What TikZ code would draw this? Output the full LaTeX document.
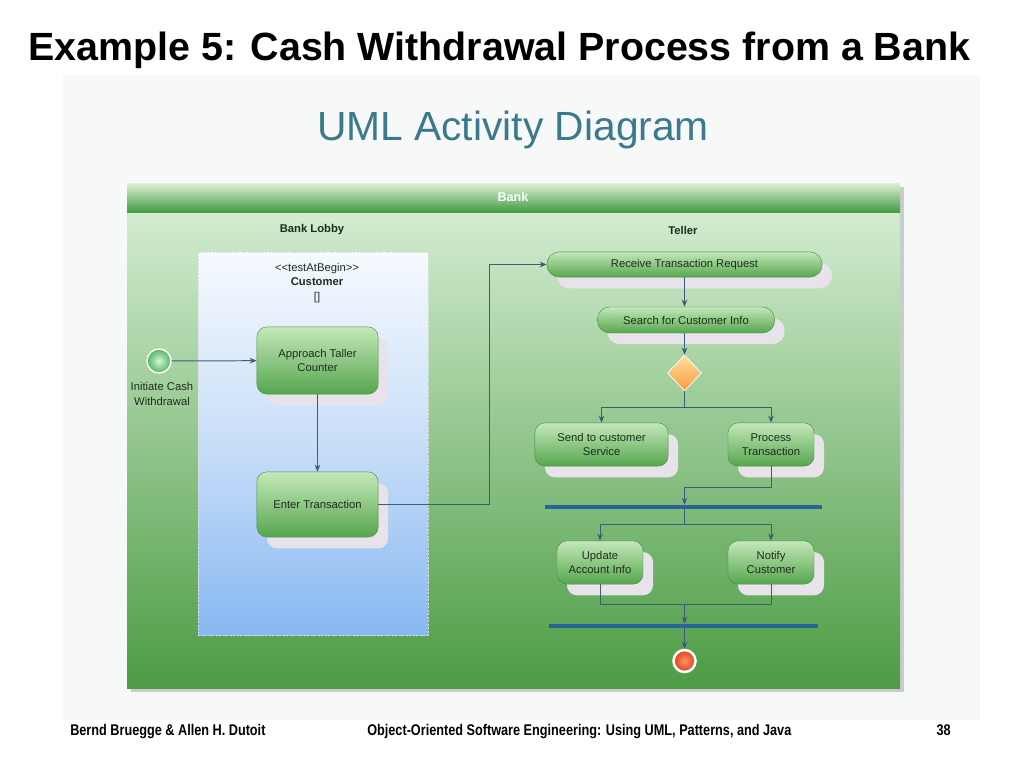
\documentclass[tikz,border=0pt]{standalone}
\usepackage{fontspec}
\setmainfont{Liberation Sans}
\newfontfamily\narrowfont[FakeStretch=0.82]{Liberation Sans}
\usetikzlibrary{arrows.meta,shapes.geometric,shadows}
\definecolor{arrowc}{RGB}{62,92,122}
\definecolor{barc}{RGB}{40,100,150}
\definecolor{boxtop}{RGB}{196,232,186}
\definecolor{boxbot}{RGB}{86,166,78}
\definecolor{shadowc}{RGB}{232,226,234}
\definecolor{bodytop}{RGB}{210,236,208}
\definecolor{bodybot}{RGB}{76,156,68}
\definecolor{headtop}{RGB}{220,242,214}
\definecolor{headbot}{RGB}{66,156,66}
\definecolor{umlc}{RGB}{58,122,140}
\definecolor{parttop}{RGB}{246,250,254}
\definecolor{partmid}{RGB}{200,222,248}
\definecolor{partbot}{RGB}{136,184,242}
\definecolor{txtc}{RGB}{28,46,28}
\definecolor{diamtop}{RGB}{255,220,160}
\definecolor{diambot}{RGB}{246,160,60}
\definecolor{panelc}{RGB}{247,249,249}
\definecolor{frameshadow}{RGB}{200,204,204}
\tikzset{
  activity/.style={rectangle, rounded corners=0.25cm, top color=boxtop, bottom color=boxbot,
    draw=boxbot!85!black, line width=0.3pt, align=center, inner sep=2pt,
    font=\fontsize{8}{10}\selectfont, text=txtc,
    drop shadow={shadow xshift=0.25cm, shadow yshift=-0.28cm, fill=shadowc, opacity=1}},
  pill/.style={activity, rounded corners=0.31cm},
  flow/.style={draw=arrowc, line width=0.7pt, -{Stealth[length=5pt,width=4pt]}},
  plain/.style={draw=arrowc, line width=0.7pt},
  bar/.style={rectangle, fill=barc, inner sep=0pt, minimum height=0.1cm},
  lbl/.style={font=\fontsize{8}{10}\selectfont, text=txtc, align=center},
  foot/.style={font=\narrowfont\bfseries\fontsize{11}{13}\selectfont, anchor=base west, inner sep=0pt}
}
\begin{document}
\begin{tikzpicture}[x=0.025cm,y=0.025cm]
\useasboundingbox (0,0) rectangle (1024,-768);
\fill[white] (0,0) rectangle (1024,-768);
\fill[panelc] (63,-75) rectangle (980,-720);
\node[anchor=base west, font=\bfseries\fontsize{28}{30}\selectfont, inner sep=0pt] (title) at (28,-61) {Example 5: Cash Withdrawal Process from a Bank};
\node[anchor=base, text=umlc, font=\fontsize{29}{31}\selectfont, inner sep=0pt] (uml) at (513,-141) {UML Activity Diagram};
% frame
\fill[frameshadow] (131,-187) rectangle (904,-692);
\shade[top color=bodytop, bottom color=bodybot] (127,-212) rectangle (900,-688);
\shade[top color=headtop, bottom color=headbot] (127,-183) rectangle (900,-212);
\node[text=white, font=\bfseries\fontsize{9}{10}\selectfont] (bank) at (513,-197) {Bank};
\node[lbl, font=\bfseries\fontsize{8}{9}\selectfont] (lobby) at (312,-230) {Bank Lobby};
\node[lbl, font=\bfseries\fontsize{8}{9}\selectfont] (teller) at (683,-230) {Teller};
% partition
\shade[top color=parttop, bottom color=partmid] (198,-252) rectangle (428,-443);
\shade[top color=partmid, bottom color=partbot] (198,-443) rectangle (428,-635);
\draw[white!75!gray, line width=0.6pt, dash pattern=on 1.5pt off 1pt] (198,-252) rectangle (428,-635);
\node[lbl, font=\fontsize{8}{10.3}\selectfont] (cust) at (317,-283) {\textless\kern0pt\textless testAtBegin\textgreater\kern0pt\textgreater\\\textbf{Customer}\\{[]}};
% nodes
\node[circle, draw=white, line width=1pt, inner color={rgb,255:red,215;green,246;blue,215}, outer color={rgb,255:red,80;green,182;blue,100}, minimum size=0.6cm, inner sep=0pt] (init) at (159,-361) {};
\node[lbl] (initlbl) at (162,-394) {Initiate Cash\\Withdrawal};
\node[activity, minimum width=3.03cm, minimum height=1.68cm] (approach) at (317.5,-360.5) {Approach Taller\\Counter};
\node[activity, minimum width=3.03cm, minimum height=1.63cm] (enter) at (317.5,-504.5) {Enter Transaction};
\node[pill, minimum width=6.88cm, minimum height=0.63cm] (receive) at (684.5,-264.5) {Receive Transaction Request};
\node[pill, minimum width=4.43cm, minimum height=0.65cm] (search) at (686,-320) {Search for Customer Info};
\node[diamond, draw=white, line width=0.5pt, top color=diamtop, bottom color=diambot, minimum width=0.85cm, minimum height=0.9cm, inner sep=0pt] (dec) at (684.5,-373) {};
\node[activity, minimum width=3.33cm, minimum height=1.08cm] (send) at (601.5,-444.5) {Send to customer\\Service};
\node[activity, minimum width=2.15cm, minimum height=1.08cm] (process) at (771,-444.5) {Process\\Transaction};
\node[bar, minimum width=6.93cm] (bar1) at (683.5,-507) {};
\node[activity, minimum width=2.15cm, minimum height=1.08cm] (update) at (600,-562.5) {Update\\Account Info};
\node[activity, minimum width=2.15cm, minimum height=1.08cm] (notify) at (771,-562.5) {Notify\\Customer};
\node[bar, minimum width=6.73cm] (bar2) at (683.5,-626) {};
\node[circle, draw=white, line width=1.8pt, inner color={rgb,255:red,255;green,150;blue,100}, outer color={rgb,255:red,226;green,62;blue,30}, minimum size=0.55cm, inner sep=0pt] (final) at (684.5,-661) {};
% junction coordinates
\coordinate (j1) at (489,-264.5);
\coordinate (b1) at (684.5,-407);
\coordinate (b2) at (684.5,-487);
\coordinate (b3) at (684.5,-524);
\coordinate (b4) at (684.5,-604);
% connectors
\draw[flow] (init) -- (approach);
\draw[flow] (approach) -- (enter);
\draw[flow] (enter.east) -| (j1) -- (receive.west);
\draw[flow] (receive.south) -- (receive.south |- search.north);
\draw[flow] (search.south -| dec) -- (dec.north);
\draw[plain] (dec.south) -- (b1);
\draw[flow] (b1) -| (send.north);
\draw[flow] (b1) -| (process.north);
\draw[plain] (process.south) |- (b2);
\draw[flow] (b2) -- (b2 |- bar1.north);
\draw[plain] (b2 |- bar1.south) -- (b3);
\draw[flow] (b3) -| (update.north);
\draw[flow] (b3) -| (notify.north);
\draw[plain] (update.south) |- (b4);
\draw[plain] (notify.south) |- (b4);
\draw[flow] (b4) -- (b4 |- bar2.north);
\draw[flow] (b4 |- bar2.south) -- (final.north);
% footer
\node[foot] (f1) at (70,-735) {Bernd Bruegge \& Allen H. Dutoit};
\node[foot] (f2) at (367,-735) {Object-Oriented Software Engineering: Using UML, Patterns, and Java};
\node[foot, anchor=base east] (f3) at (951,-735) {38};
\end{tikzpicture}
\end{document}
